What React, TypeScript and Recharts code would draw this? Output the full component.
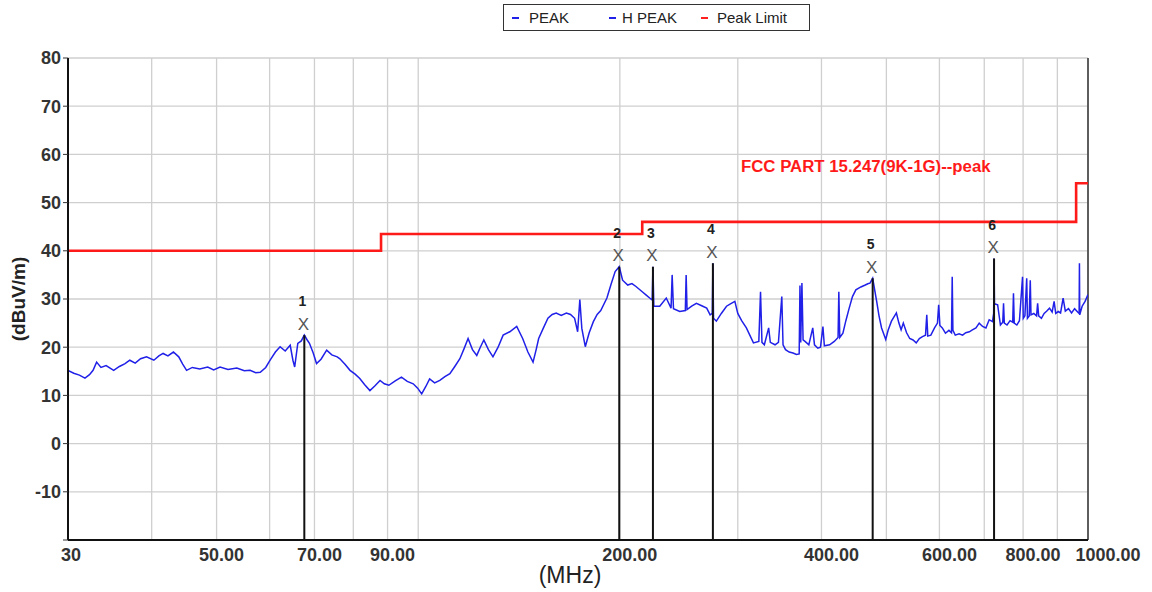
import React from 'react';
import {
  ComposedChart,
  Line,
  Scatter,
  XAxis,
  YAxis,
  CartesianGrid,
  ReferenceLine,
  Label,
} from 'recharts';

// measured trace (PEAK), frequency in MHz and level in dBuV/m
const freqMHz = [
  30, 30.6, 31.2, 31.8, 32.3, 32.7, 33.1, 33.6, 34.2, 35.1, 35.8, 36.5, 37.1, 37.8, 38.5, 39.3,
  40.3, 41.0, 41.6, 42.3, 43.1, 43.9, 44.5, 45.1, 46.0, 47.2, 48.5, 49.5, 50.6, 52.0, 53.6, 55.0,
  56.1, 57.2, 58.1, 59.2, 60.1, 61.2, 62.2, 63.3, 64.4, 65.0, 65.4, 66.1, 66.9, 67.6, 68.2, 68.8,
  69.7, 70.5, 71.6, 73.0, 74.3, 75.7, 76.4, 77.8, 79.1, 80.5, 81.8, 83.2, 84.7, 86.2, 87.7, 89.0,
  90.4, 92.4, 94.4, 96.3, 98.3, 99.8, 101.2, 102.6, 104.0, 105.8, 107.7, 109.6, 111.5, 113.4, 115.4, 117.0,
  118.7, 120.5, 122.3, 123.8, 125.3, 127.3, 129.3, 131.6, 133.9, 137.0, 140.3, 143.2, 145.8, 148.4, 150.0, 151.3,
  153.8, 156.2, 158.5, 160.7, 163.5, 166.4, 168.8, 171.2, 173.0, 174.3, 175.5, 177.6, 180.0, 182.6, 185.0, 187.3,
  191.3, 194.0, 196.8, 199.6, 201.9, 205.5, 208.5, 211.4, 216.0, 219.0, 221.6, 223.5, 224.1, 224.8, 229.4, 234.6,
  238.5, 239.4, 240.5, 245.7, 250.5, 251.2, 252.0, 256.0, 260.2, 265.0, 269.6, 272.8, 274.8, 275.4, 276.0, 278.7,
  283.5, 288.6, 292.5, 297.0, 300.0, 304.0, 309.0, 316.6, 322.5, 324.4, 326.0, 328.7, 333.6, 335.5, 341.0, 345.0,
  349.0, 350.5, 353.5, 358.0, 362.7, 367.0, 370.5, 371.5, 372.5, 374.0, 375.5, 378.0, 383.0, 388.2, 390.5, 395.0,
  398.7, 402.0, 404.0, 411.4, 418.0, 423.5, 424.6, 426.0, 430.6, 435.0, 440.0, 445.0, 450.2, 458.0, 465.0, 470.0,
  472.6, 477.0, 483.6, 487.5, 491.8, 498.9, 503.0, 508.8, 517.5, 522.0, 526.0, 530.0, 536.0, 541.8, 548.0, 554.0,
  560.0, 566.0, 572.0, 574.5, 576.5, 582.6, 590.0, 596.0, 598.5, 601.0, 606.0, 612.6, 620.0, 625.5, 627.0, 628.5,
  633.6, 642.0, 649.8, 657.0, 665.0, 672.0, 680.3, 688.0, 696.0, 704.0, 712.0, 720.0, 723.0, 724.0, 725.0, 733.0,
  740.0, 746.0, 748.0, 750.0, 757.0, 765.0, 772.0, 774.0, 776.0, 783.0, 790.0, 798.5, 800.5, 805.0, 810.0, 812.0,
  817.0, 820.0, 822.0, 830.0, 838.0, 841.0, 844.0, 852.0, 860.0, 868.0, 876.0, 884.0, 890.0, 895.0, 903.0, 910.0,
  918.0, 925.0, 935.0, 945.0, 955.0, 965.0, 970.0, 971.0, 972.0, 980.0, 990.0, 1000.0,
];
const levelDb = [
  15.2, 14.6, 14.2, 13.6, 14.3, 15.2, 16.9, 15.8, 16.2, 15.2, 16.0, 16.6, 17.3, 16.7, 17.6, 18.0,
  17.3, 18.2, 18.7, 18.2, 19.0, 18.0, 16.5, 15.2, 15.8, 15.5, 15.9, 15.3, 15.9, 15.4, 15.7, 15.1,
  15.2, 14.7, 14.8, 15.8, 17.3, 19.0, 20.1, 19.2, 20.4, 17.3, 15.9, 20.8, 21.3, 22.5, 21.6, 20.8,
  18.8, 16.6, 17.5, 19.4, 18.4, 18.0, 17.6, 16.4, 15.2, 14.4, 13.5, 12.2, 11.0, 12.0, 13.1, 12.4,
  12.1, 13.0, 13.8, 12.9, 12.4, 11.5, 10.3, 11.8, 13.4, 12.6, 13.1, 13.9, 14.5, 16.0, 17.6, 19.6,
  21.8, 19.5, 18.3, 20.0, 21.5, 19.5, 18.0, 20.0, 22.5, 23.2, 24.3, 21.8, 19.0, 16.9, 19.5, 21.8,
  24.0, 26.0, 26.8, 27.1, 26.6, 27.1, 26.8, 26.0, 23.2, 29.9, 23.9, 20.1, 23.0, 25.3, 26.8, 27.6,
  30.2, 33.0, 35.7, 36.7, 33.9, 32.9, 33.2, 32.6, 31.5, 30.8, 30.2, 29.8, 36.7, 28.5, 28.5, 30.2,
  28.1, 35.0, 28.0, 27.4, 27.6, 35.0, 27.8, 28.5, 29.1, 28.6, 28.1, 26.7, 27.0, 37.4, 26.0, 25.4,
  27.0, 28.5, 29.0, 29.5, 27.0, 25.5, 24.0, 20.9, 21.2, 31.5, 21.0, 20.5, 24.0, 21.0, 20.5, 21.0,
  30.5, 20.5, 19.5, 19.0, 18.8, 18.5, 18.6, 32.8, 21.0, 33.3, 21.5, 21.2, 20.5, 24.0, 20.5, 19.8,
  20.0, 24.3, 20.3, 20.5, 21.2, 22.0, 31.5, 22.0, 22.9, 25.5, 28.1, 30.5, 31.9, 32.5, 32.9, 33.2,
  33.3, 34.3, 29.5, 26.5, 24.0, 21.6, 23.5, 25.4, 27.1, 25.0, 23.6, 25.0, 23.0, 21.8, 21.5, 20.9,
  21.8, 22.2, 22.5, 26.7, 22.3, 22.5, 24.0, 25.0, 28.8, 24.5, 24.0, 22.9, 23.5, 23.0, 34.6, 23.5,
  22.5, 22.8, 22.5, 23.0, 23.2, 23.6, 24.0, 25.0, 24.3, 24.0, 25.7, 25.3, 27.0, 38.4, 29.0, 28.8,
  24.6, 25.2, 29.1, 25.0, 24.6, 25.5, 25.2, 31.2, 25.0, 24.6, 25.5, 34.6, 26.0, 26.5, 34.3, 26.0,
  26.5, 33.9, 26.7, 27.0, 26.5, 29.1, 26.5, 26.0, 27.0, 27.5, 28.1, 27.3, 29.5, 27.0, 27.4, 27.1,
  30.2, 27.5, 28.0, 27.1, 28.0, 27.3, 27.0, 37.4, 26.7, 28.5, 29.5, 30.9,
];

// FCC Part 15.247 peak limit, stepped
const limitFreq = [30, 88, 88, 216, 216, 960, 960, 1000];
const limitDb = [40, 40, 43.5, 43.5, 46, 46, 54, 54];

// numbered markers
const markerNo = ['1', '2', '3', '4', '5', '6'];
const markerFreq = [67.6, 199.6, 224.1, 275.4, 477.0, 724.0];
const markerDb = [22.5, 36.7, 36.7, 37.4, 34.3, 38.4];

const gridFreq = [30, 40, 50, 60, 70, 80, 90, 100, 200, 300, 400, 500, 600, 700, 800, 900, 1000];
const labelFreq = [30, 50, 70, 90, 200, 400, 600, 800, 1000];
const yTicks = [-20, -10, 0, 10, 20, 30, 40, 50, 60, 70, 80];

const trace = freqMHz.map((f, i) => ({ f, v: levelDb[i] }));
const limit = limitFreq.map((f, i) => ({ f, v: limitDb[i] }));
const markers = markerFreq.map((f, i) => ({ f, v: markerDb[i], n: markerNo[i] }));

const FONT = 'Arial, "Liberation Sans", sans-serif';

const XTick = (props: any) => {
  const { x, y, payload } = props;
  const val = payload.value;
  if (!labelFreq.includes(val)) return null;
  const dx = val === 30 ? 3 : val < 100 ? 5 : val < 1000 ? 10 : 20;
  return (
    <text x={x + dx} y={y} dy="0.72em" textAnchor="middle" fontFamily={FONT} fontSize={18} fontWeight="bold" fill="#333">
      {val === 30 ? '30' : val.toFixed(2)}
    </text>
  );
};

const MarkerShape = (props: any) => {
  const { cx, cy, payload } = props;
  return (
    <g>
      <text x={cx - 1} y={cy - 11} textAnchor="middle" dominantBaseline="central" fontFamily={FONT} fontSize={17} fill="#555">
        X
      </text>
      <text x={cx - 2} y={cy - 34} textAnchor="middle" dominantBaseline="central" fontFamily={FONT} fontSize={14} fontWeight="bold" fill="#222">
        {payload.n}
      </text>
    </g>
  );
};

const YTitle = (props: any) => {
  const { viewBox } = props;
  const x = viewBox.x + 18;
  const y = viewBox.y + viewBox.height / 2;
  return (
    <text x={x} y={y} transform={`rotate(-90, ${x}, ${y})`} textAnchor="middle" dominantBaseline="central" fontFamily={FONT} fontSize={19} fontWeight="bold" fill="#222">
      (dBuV/m)
    </text>
  );
};

const XTitle = (props: any) => {
  const { viewBox } = props;
  return (
    <text x={viewBox.x + viewBox.width / 2 - 8} y={viewBox.y + 43} textAnchor="middle" fontFamily={FONT} fontSize={23} fill="#222">
      (MHz)
    </text>
  );
};

const legendItems = [
  { name: 'PEAK', color: '#2020e8', dash: 8, text: 25 },
  { name: 'H PEAK', color: '#2020e8', dash: 105, text: 118 },
  { name: 'Peak Limit', color: '#ff2020', dash: 197, text: 213 },
];

export default function App() {
  return (
    <div style={{ position: 'absolute', left: 0, top: 0, width: 1152, height: 592, background: '#fff', fontFamily: FONT }}>
      <ComposedChart width={1152} height={592} margin={{ top: 58, right: 64, bottom: 0, left: 0 }}>
        <CartesianGrid stroke="#cfcfcf" strokeWidth={1.3} />
        <XAxis
          dataKey="f"
          type="number"
          scale="log"
          domain={[30, 1000]}
          ticks={gridFreq}
          allowDataOverflow
          height={52}
          tickLine={false}
          tickSize={0}
          tickMargin={8}
          tick={<XTick />}
          axisLine={{ stroke: '#111', strokeWidth: 2 }}
          interval={0}
        >
          <Label content={<XTitle />} />
        </XAxis>
        <YAxis
          dataKey="v"
          type="number"
          domain={[-20, 80]}
          ticks={yTicks}
          width={68}
          interval={0}
          tickSize={5}
          tickMargin={2}
          tickFormatter={(v: number) => (v === -20 ? '' : String(v))}
          tick={{ fontFamily: FONT, fontSize: 18, fontWeight: 'bold', fill: '#333' }}
          tickLine={{ stroke: '#333' }}
          axisLine={{ stroke: '#111', strokeWidth: 2 }}
        >
          <Label content={<YTitle />} />
        </YAxis>
        <ReferenceLine x={1000} stroke="#333" strokeWidth={1.5} />
        <Line data={limit} dataKey="v" type="linear" stroke="#ff1a1a" strokeWidth={2.6} dot={false} isAnimationActive={false} />
        <Line data={trace} dataKey="v" type="linear" stroke="#2020e8" strokeWidth={1.5} dot={false} isAnimationActive={false} />
        {markers.map((m) => (
          <ReferenceLine
            key={m.n}
            segment={[{ x: m.f, y: -20 }, { x: m.f, y: m.v }]}
            stroke="#111"
            strokeWidth={2}
          />
        ))}
        <Scatter data={markers} dataKey="v" shape={<MarkerShape />} isAnimationActive={false} />
      </ComposedChart>

      <div
        style={{
          position: 'absolute',
          left: 503,
          top: 4,
          width: 307,
          height: 27,
          border: '1.5px solid #333',
          boxSizing: 'border-box',
          background: '#fff',
          fontSize: 15,
          color: '#222',
        }}
      >
        {legendItems.map((it) => (
          <React.Fragment key={it.name}>
            <span style={{ position: 'absolute', left: it.dash, top: 12, width: 7, height: 1.5, background: it.color }} />
            <span style={{ position: 'absolute', left: it.text, top: 4, lineHeight: '17px', whiteSpace: 'nowrap' }}>{it.name}</span>
          </React.Fragment>
        ))}
      </div>

      <div
        style={{
          position: 'absolute',
          left: 741,
          top: 157,
          color: '#ff1a1a',
          fontSize: 16.8,
          fontWeight: 'bold',
          whiteSpace: 'nowrap',
        }}
      >
        FCC PART 15.247(9K-1G)--peak
      </div>
    </div>
  );
}
